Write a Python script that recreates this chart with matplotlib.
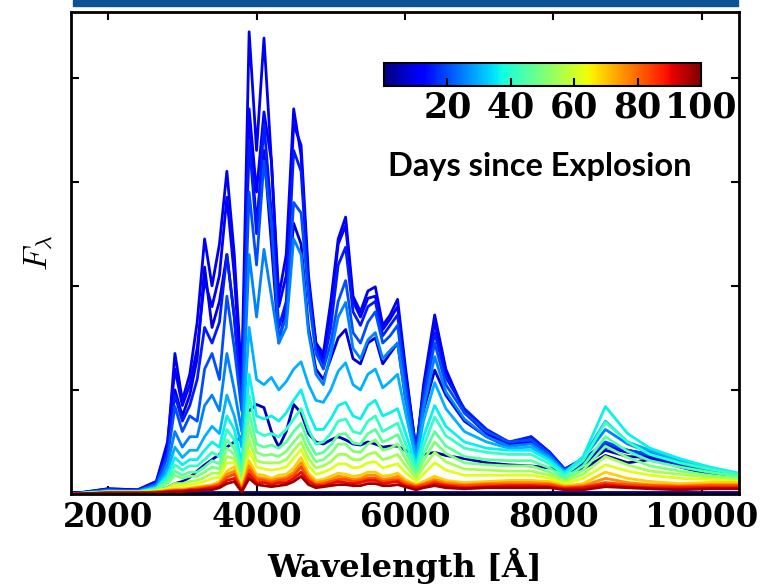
import matplotlib
matplotlib.use('Agg')
import matplotlib.pyplot as plt
from matplotlib import colors
from matplotlib.colorbar import ColorbarBase
from matplotlib.patches import Rectangle

plt.rcParams['font.family'] = 'DejaVu Serif'
plt.rcParams['font.weight'] = 'bold'
plt.rcParams['mathtext.fontset'] = 'cm'

# wavelength grid [A]
wave = [1500, 2000, 2400, 2650, 2800, 2900, 3000, 3100, 3200, 3300,
        3400, 3500, 3600, 3700, 3800, 3900, 4000, 4100, 4200, 4300,
        4400, 4500, 4600, 4700, 4800, 4900, 5000, 5100, 5200, 5300,
        5400, 5500, 5600, 5700, 5800, 5900, 6000, 6150, 6250, 6400,
        6550, 6800, 7100, 7400, 7700, 7950, 8150, 8400, 8700, 9000,
        9300, 9700, 10100, 10500]

days = [1, 5, 8, 10, 12, 15, 20, 25, 30, 36, 41, 46, 50, 55, 62, 69, 76, 83, 90, 97]

flux_d1 = [0.02, 0.02, 0.02, 0.02, 0.02, 0.02, 0.02, 0.02, 0.02, 0.02,
           0.02, 0.02, 0.02, 0.02, 0.02, 0.02, 0.02, 0.02, 0.02, 0.02,
           0.02, 0.02, 0.02, 0.02, 0.02, 0.02, 0.02, 0.02, 0.02, 0.02,
           0.02, 0.02, 0.02, 0.02, 0.02, 0.02, 0.02, 0.02, 0.02, 0.02,
           0.02, 0.02, 0.02, 0.02, 0.02, 0.02, 0.02, 0.02, 0.02, 0.02,
           0.02, 0.02, 0.02, 0.02]
flux_d5 = [0.01, 0.02, 0.02, 0.03, 0.06, 0.10, 0.12, 0.16, 0.22, 0.28,
           0.33, 0.38, 0.45, 0.50, 0.55, 0.80, 0.86, 0.83, 0.60, 0.45,
           0.60, 0.86, 0.78, 0.58, 0.50, 0.48, 0.52, 0.55, 0.52, 0.48,
           0.47, 0.50, 0.48, 0.45, 0.46, 0.46, 0.42, 0.38, 0.38, 0.40,
           0.37, 0.34, 0.30, 0.28, 0.27, 0.25, 0.22, 0.24, 0.37, 0.30,
           0.33, 0.27, 0.22, 0.18]
flux_d8 = [0.00, 0.04, 0.03, 0.10, 0.40, 1.00, 0.75, 0.95, 1.30, 2.18,
           1.60, 1.85, 2.30, 1.70, 0.90, 3.50, 2.60, 3.30, 2.40, 1.45,
           1.80, 2.60, 2.40, 1.60, 1.20, 1.10, 1.30, 1.50, 1.58, 1.30,
           1.25, 1.45, 1.50, 1.25, 1.35, 1.45, 0.95, 0.35, 0.80, 1.19,
           0.95, 0.70, 0.55, 0.45, 0.50, 0.36, 0.20, 0.28, 0.42, 0.36,
           0.35, 0.26, 0.19, 0.14]
flux_d10 = [0.00, 0.05, 0.04, 0.12, 0.45, 1.35, 0.90, 1.15, 1.65, 2.45,
            2.00, 2.40, 3.10, 2.30, 1.10, 4.44, 3.30, 4.38, 3.20, 1.90,
            2.30, 3.70, 3.25, 2.00, 1.45, 1.35, 1.85, 2.45, 2.66, 1.90,
            1.75, 1.95, 1.99, 1.62, 1.72, 1.87, 1.25, 0.40, 1.05, 1.72,
            1.20, 0.78, 0.58, 0.47, 0.52, 0.38, 0.22, 0.30, 0.45, 0.40,
            0.37, 0.28, 0.20, 0.15]
flux_d12 = [0.00, 0.05, 0.04, 0.12, 0.50, 1.20, 0.85, 1.05, 1.40, 2.05,
            1.80, 2.10, 2.85, 2.10, 1.00, 3.70, 2.90, 3.67, 3.20, 1.80,
            2.10, 3.55, 3.35, 2.10, 1.45, 1.30, 1.75, 2.40, 2.58, 1.85,
            1.70, 1.88, 1.90, 1.58, 1.68, 1.80, 1.20, 0.42, 1.00, 1.65,
            1.18, 0.80, 0.60, 0.48, 0.55, 0.40, 0.24, 0.32, 0.47, 0.42,
            0.38, 0.29, 0.21, 0.16]
flux_d15 = [0.00, 0.04, 0.03, 0.10, 0.40, 0.95, 0.70, 0.85, 1.10, 1.60,
            1.45, 1.65, 2.30, 1.70, 0.85, 3.40, 2.50, 3.55, 2.70, 1.60,
            1.85, 3.30, 3.10, 2.00, 1.40, 1.25, 1.60, 2.20, 2.37, 1.75,
            1.62, 1.80, 1.85, 1.52, 1.62, 1.72, 1.15, 0.42, 0.98, 1.55,
            1.12, 0.82, 0.62, 0.50, 0.55, 0.40, 0.24, 0.34, 0.48, 0.42,
            0.37, 0.28, 0.21, 0.16]
flux_d20 = [0.00, 0.04, 0.03, 0.10, 0.35, 0.84, 0.60, 0.75, 0.70, 1.20,
            1.35, 1.10, 1.90, 1.40, 0.80, 2.90, 2.20, 3.20, 2.60, 1.50,
            1.70, 2.80, 2.70, 1.90, 1.35, 1.20, 1.45, 1.85, 2.05, 1.55,
            1.45, 1.65, 1.75, 1.45, 1.52, 1.62, 1.05, 0.38, 0.90, 1.45,
            1.05, 0.78, 0.60, 0.50, 0.52, 0.38, 0.23, 0.33, 0.50, 0.42,
            0.38, 0.30, 0.22, 0.17]
flux_d25 = [0.00, 0.03, 0.03, 0.08, 0.28, 0.60, 0.45, 0.55, 0.55, 0.85,
            0.95, 0.80, 1.35, 1.00, 0.60, 2.30, 1.70, 2.35, 1.90, 1.45,
            1.60, 2.45, 2.30, 1.55, 1.15, 1.05, 1.35, 1.70, 1.84, 1.40,
            1.30, 1.48, 1.55, 1.30, 1.38, 1.45, 0.95, 0.35, 0.82, 1.32,
            0.98, 0.72, 0.55, 0.46, 0.48, 0.36, 0.22, 0.34, 0.62, 0.48,
            0.40, 0.30, 0.23, 0.18]
flux_d30 = [0.00, 0.03, 0.02, 0.07, 0.22, 0.45, 0.35, 0.42, 0.42, 0.55,
            0.65, 0.58, 0.95, 0.75, 0.45, 1.60, 1.10, 1.05, 1.12, 1.00,
            1.08, 1.20, 1.27, 1.05, 0.90, 0.88, 1.00, 1.18, 1.26, 1.05,
            1.00, 1.15, 1.20, 1.02, 1.08, 1.15, 0.80, 0.32, 0.70, 1.07,
            0.82, 0.60, 0.50, 0.44, 0.45, 0.34, 0.21, 0.35, 0.70, 0.50,
            0.42, 0.32, 0.24, 0.19]
flux_d36 = [0.00, 0.02, 0.02, 0.06, 0.18, 0.35, 0.28, 0.33, 0.33, 0.42,
            0.50, 0.45, 0.75, 0.62, 0.30, 1.15, 0.75, 0.72, 0.75, 0.70,
            0.78, 0.90, 1.00, 0.78, 0.62, 0.62, 0.72, 0.85, 0.88, 0.75,
            0.72, 0.85, 0.90, 0.75, 0.78, 0.82, 0.60, 0.28, 0.55, 0.85,
            0.65, 0.50, 0.44, 0.42, 0.42, 0.32, 0.20, 0.36, 0.84, 0.58,
            0.44, 0.34, 0.26, 0.20]
flux_d41 = [0.00, 0.02, 0.02, 0.05, 0.15, 0.28, 0.23, 0.27, 0.27, 0.33,
            0.40, 0.36, 0.62, 0.52, 0.22, 0.95, 0.60, 0.56, 0.58, 0.55,
            0.62, 0.72, 0.82, 0.62, 0.48, 0.50, 0.58, 0.70, 0.72, 0.60,
            0.58, 0.70, 0.75, 0.60, 0.64, 0.68, 0.50, 0.24, 0.46, 0.74,
            0.56, 0.44, 0.40, 0.38, 0.38, 0.29, 0.18, 0.32, 0.69, 0.50,
            0.38, 0.30, 0.24, 0.19]
flux_d46 = [0.00, 0.02, 0.02, 0.04, 0.12, 0.22, 0.18, 0.21, 0.21, 0.26,
            0.32, 0.29, 0.52, 0.44, 0.16, 0.78, 0.48, 0.45, 0.47, 0.44,
            0.50, 0.60, 0.68, 0.50, 0.38, 0.40, 0.47, 0.57, 0.58, 0.49,
            0.48, 0.58, 0.62, 0.50, 0.53, 0.57, 0.42, 0.20, 0.38, 0.60,
            0.46, 0.36, 0.33, 0.32, 0.32, 0.25, 0.15, 0.27, 0.55, 0.41,
            0.32, 0.26, 0.21, 0.17]
flux_d50 = [0.00, 0.02, 0.02, 0.04, 0.10, 0.18, 0.15, 0.17, 0.17, 0.21,
            0.26, 0.24, 0.44, 0.38, 0.12, 0.65, 0.40, 0.37, 0.38, 0.36,
            0.41, 0.50, 0.58, 0.42, 0.31, 0.33, 0.39, 0.48, 0.48, 0.41,
            0.40, 0.48, 0.52, 0.42, 0.44, 0.48, 0.35, 0.17, 0.32, 0.50,
            0.39, 0.30, 0.28, 0.27, 0.27, 0.21, 0.13, 0.23, 0.46, 0.35,
            0.27, 0.22, 0.18, 0.15]
flux_d55 = [0.00, 0.02, 0.02, 0.03, 0.06, 0.10, 0.10, 0.12, 0.13, 0.16,
            0.20, 0.20, 0.36, 0.34, 0.08, 0.52, 0.32, 0.30, 0.30, 0.30,
            0.33, 0.42, 0.50, 0.34, 0.25, 0.27, 0.31, 0.38, 0.38, 0.33,
            0.33, 0.38, 0.40, 0.33, 0.35, 0.38, 0.28, 0.15, 0.26, 0.40,
            0.31, 0.24, 0.23, 0.22, 0.22, 0.18, 0.12, 0.19, 0.36, 0.28,
            0.22, 0.19, 0.16, 0.14]
flux_d62 = [0.00, 0.01, 0.01, 0.03, 0.05, 0.08, 0.08, 0.09, 0.10, 0.12,
            0.15, 0.16, 0.30, 0.30, 0.06, 0.42, 0.26, 0.24, 0.23, 0.24,
            0.26, 0.34, 0.43, 0.27, 0.19, 0.21, 0.24, 0.29, 0.29, 0.25,
            0.26, 0.30, 0.31, 0.25, 0.27, 0.29, 0.21, 0.12, 0.19, 0.30,
            0.23, 0.18, 0.18, 0.18, 0.18, 0.15, 0.10, 0.15, 0.28, 0.22,
            0.18, 0.15, 0.14, 0.12]
flux_d69 = [0.00, 0.01, 0.01, 0.02, 0.04, 0.05, 0.05, 0.06, 0.07, 0.08,
            0.09, 0.12, 0.22, 0.26, 0.05, 0.32, 0.19, 0.18, 0.15, 0.18,
            0.19, 0.25, 0.35, 0.20, 0.13, 0.14, 0.17, 0.20, 0.19, 0.17,
            0.18, 0.21, 0.21, 0.17, 0.18, 0.20, 0.14, 0.09, 0.12, 0.17,
            0.13, 0.11, 0.12, 0.13, 0.13, 0.12, 0.08, 0.10, 0.21, 0.15,
            0.12, 0.10, 0.11, 0.11]
flux_d76 = [0.00, 0.01, 0.01, 0.02, 0.03, 0.04, 0.04, 0.05, 0.06, 0.07,
            0.08, 0.10, 0.19, 0.22, 0.04, 0.27, 0.16, 0.15, 0.13, 0.15,
            0.16, 0.21, 0.30, 0.17, 0.11, 0.12, 0.14, 0.17, 0.16, 0.14,
            0.15, 0.18, 0.18, 0.14, 0.15, 0.17, 0.12, 0.08, 0.10, 0.14,
            0.11, 0.09, 0.10, 0.11, 0.11, 0.10, 0.07, 0.08, 0.15, 0.11,
            0.09, 0.08, 0.09, 0.09]
flux_d83 = [0.00, 0.01, 0.01, 0.02, 0.03, 0.03, 0.03, 0.04, 0.05, 0.06,
            0.07, 0.09, 0.16, 0.19, 0.03, 0.23, 0.14, 0.13, 0.11, 0.13,
            0.14, 0.18, 0.26, 0.14, 0.09, 0.10, 0.12, 0.14, 0.14, 0.12,
            0.13, 0.15, 0.15, 0.12, 0.13, 0.14, 0.10, 0.07, 0.09, 0.12,
            0.09, 0.08, 0.09, 0.09, 0.09, 0.09, 0.06, 0.07, 0.11, 0.09,
            0.08, 0.07, 0.08, 0.08]
flux_d90 = [0.00, 0.01, 0.01, 0.01, 0.02, 0.03, 0.03, 0.04, 0.04, 0.05,
            0.06, 0.07, 0.13, 0.15, 0.03, 0.19, 0.11, 0.11, 0.09, 0.11,
            0.11, 0.15, 0.21, 0.12, 0.08, 0.08, 0.10, 0.12, 0.11, 0.10,
            0.11, 0.13, 0.13, 0.10, 0.11, 0.12, 0.08, 0.06, 0.07, 0.10,
            0.08, 0.06, 0.07, 0.08, 0.08, 0.07, 0.05, 0.06, 0.09, 0.07,
            0.06, 0.06, 0.06, 0.06]
flux_d97 = [0.00, 0.01, 0.01, 0.01, 0.02, 0.02, 0.02, 0.03, 0.03, 0.04,
            0.04, 0.06, 0.10, 0.12, 0.02, 0.15, 0.09, 0.08, 0.07, 0.08,
            0.09, 0.12, 0.17, 0.09, 0.06, 0.07, 0.08, 0.09, 0.09, 0.08,
            0.08, 0.10, 0.10, 0.08, 0.08, 0.09, 0.07, 0.04, 0.06, 0.08,
            0.06, 0.05, 0.06, 0.06, 0.06, 0.06, 0.04, 0.04, 0.07, 0.06,
            0.05, 0.04, 0.05, 0.05]

spectra = [flux_d1, flux_d5, flux_d8, flux_d10, flux_d12, flux_d15, flux_d20,
           flux_d25, flux_d30, flux_d36, flux_d41, flux_d46, flux_d50, flux_d55,
           flux_d62, flux_d69, flux_d76, flux_d83, flux_d90, flux_d97]
for s in spectra:
    assert len(s) == len(wave), len(s)

cbar_ticks = [20, 40, 60, 80, 100]
x_ticks = [2000, 4000, 6000, 8000, 10000]

fig = plt.figure(figsize=(7.69, 5.85), dpi=100)
ax = fig.add_axes([71 / 769, 91 / 585, 668 / 769, 482 / 585])

cmap = plt.get_cmap('jet')
norm = colors.Normalize(vmin=0, vmax=100)
for d, f in zip(days, spectra):
    ax.plot(wave, f, color=cmap(norm(d)), lw=2.0, solid_joinstyle='round')

ax.set_xlim(1500, 10500)
ax.set_ylim(0, 4.63)
ax.set_xticks(x_ticks)
ax.set_yticks([1, 2, 3, 4])
ax.set_yticklabels([])
ax.tick_params(direction='in', top=True, right=True, length=6, width=1.5,
               labelsize=23.5, pad=5)
for sp in ax.spines.values():
    sp.set_linewidth(2)
ax.set_xlabel('Wavelength [Å]', fontsize=23, fontweight='bold', labelpad=10)
ax.set_ylabel(r'$F_\lambda$', fontsize=24, labelpad=6)

# colorbar inside the axes
cax = fig.add_axes([384 / 769, 499 / 585, 317 / 769, 23 / 585])
cb = ColorbarBase(cax, cmap=cmap, norm=norm, orientation='horizontal', ticks=cbar_ticks)
cb.outline.set_linewidth(1.5)
cax.tick_params(direction='in', length=6, width=1.5, labelsize=25, pad=3)

fig.text(0.702, 0.716, 'Days since Explosion', fontsize=23.5, fontweight='bold',
         family=['Lato', 'DejaVu Sans'], ha='center', va='center')

# blue banner edge at the very top
fig.add_artist(Rectangle((73 / 769, 1 - 6 / 585), 665 / 769, 6 / 585,
                         transform=fig.transFigure, color='#0b5394', zorder=5))

fig.savefig('out.png', dpi=100)
